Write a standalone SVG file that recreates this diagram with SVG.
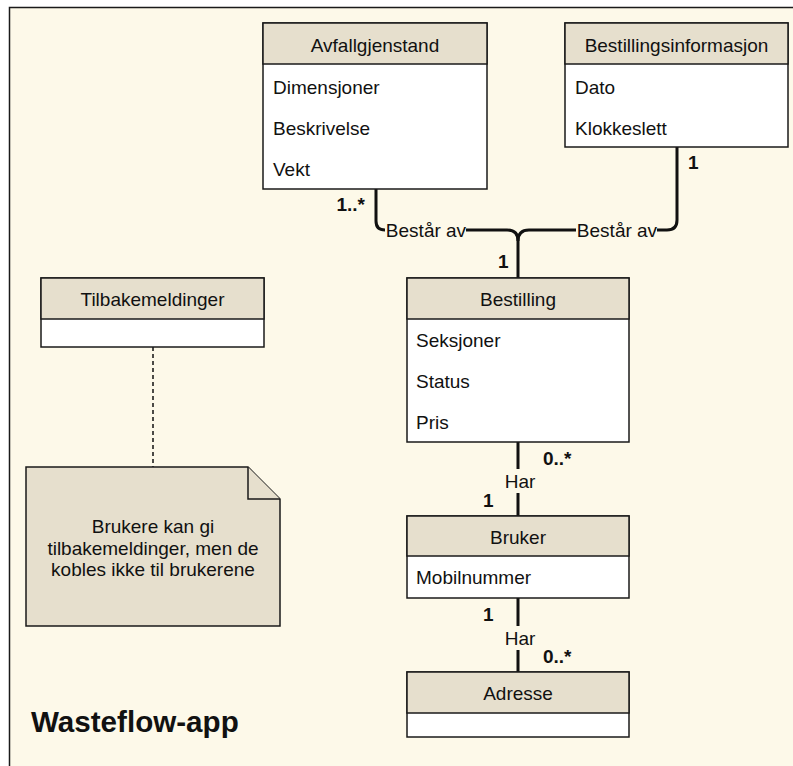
<svg xmlns="http://www.w3.org/2000/svg" width="793" height="766" viewBox="0 0 793 766">
<style>
text{font-family:"Liberation Sans",Arial,Helvetica,sans-serif;font-size:19px;fill:#111}
.h{text-anchor:middle}
.b{font-weight:bold}
.hdr{fill:#E6DFCD;stroke:#1a1a1a;stroke-width:1.5}
.body{fill:#FFFFFF;stroke:#1a1a1a;stroke-width:1.5}
.conn{fill:none;stroke:#111;stroke-width:3}
.dash{fill:none;stroke:#111;stroke-width:1.5;stroke-dasharray:4 3}
.note{fill:#E6DFCD;stroke:#1a1a1a;stroke-width:1.5}
</style>
<rect x="0" y="0" width="793" height="766" fill="#FFFFFF"/>
<rect x="9.5" y="7.5" width="800" height="800" fill="#FDF9E9" stroke="#1a1a1a" stroke-width="1.5"/>

<g id="connectors">
<path class="conn" d="M376 189 V221 Q376 230 385 230"/>
<path class="conn" d="M466 230 H507 Q518 230 518 241 V278"/>
<path class="conn" d="M677 147 V220 Q677 230 667 230 H657"/>
<path class="conn" d="M576 230 H529 Q518 230 518 241"/>
<path class="conn" d="M518 442 V469 M518 493 V516"/>
<path class="conn" d="M518 598 V626 M518 650 V672"/>
<path class="dash" d="M153 347 V467"/>
<text x="426" y="237" class="h">Består av</text>
<text x="617" y="237" class="h">Består av</text>
<text x="365" y="211" class="b" text-anchor="end">1..*</text>
<text x="688" y="169" class="b">1</text>
<text x="498" y="268" class="b">1</text>
<text x="543" y="465" class="b">0..*</text>
<text x="520" y="488" class="h">Har</text>
<text x="483" y="507" class="b">1</text>
<text x="483" y="621" class="b">1</text>
<text x="520" y="645" class="h">Har</text>
<text x="543" y="663" class="b">0..*</text>
</g>

<g id="avfallgjenstand">
<rect class="body" x="263" y="23" width="224" height="166"/>
<rect class="hdr" x="263" y="23" width="224" height="41"/>
<text x="375" y="51.5" class="h">Avfallgjenstand</text>
<text x="273" y="94">Dimensjoner</text>
<text x="273" y="134.5">Beskrivelse</text>
<text x="273" y="175.5">Vekt</text>
</g>

<g id="bestillingsinformasjon">
<rect class="body" x="565" y="23" width="223" height="124"/>
<rect class="hdr" x="565" y="23" width="223" height="41"/>
<text x="676.5" y="51.5" class="h">Bestillingsinformasjon</text>
<text x="575" y="94">Dato</text>
<text x="575" y="135">Klokkeslett</text>
</g>

<g id="tilbakemeldinger">
<rect class="body" x="41" y="278" width="223" height="69"/>
<rect class="hdr" x="41" y="278" width="223" height="41"/>
<text x="152.5" y="305.5" class="h">Tilbakemeldinger</text>
</g>

<g id="note">
<path class="note" d="M26 467 H248 L280 499 V626 H26 Z"/>
<path class="note" d="M248 467 V499 H280"/>
<text x="153" y="533" class="h">Brukere kan gi</text>
<text x="153" y="554.5" class="h">tilbakemeldinger, men de</text>
<text x="153" y="576" class="h">kobles ikke til brukerene</text>
</g>

<g id="bestilling">
<rect class="body" x="407" y="278" width="222" height="164"/>
<rect class="hdr" x="407" y="278" width="222" height="41"/>
<text x="518" y="306" class="h">Bestilling</text>
<text x="416" y="347">Seksjoner</text>
<text x="416" y="388">Status</text>
<text x="416" y="429">Pris</text>
</g>

<g id="bruker">
<rect class="body" x="407" y="516" width="222" height="82"/>
<rect class="hdr" x="407" y="516" width="222" height="40"/>
<text x="518" y="543.5" class="h">Bruker</text>
<text x="416" y="584">Mobilnummer</text>
</g>

<g id="adresse">
<rect class="body" x="407" y="672" width="222" height="65"/>
<rect class="hdr" x="407" y="672" width="222" height="41"/>
<text x="518" y="699.5" class="h">Adresse</text>
</g>

<g id="title">
<text x="31" y="732" class="b" style="font-size:29.6px">Wasteflow-app</text>
</g>
</svg>
